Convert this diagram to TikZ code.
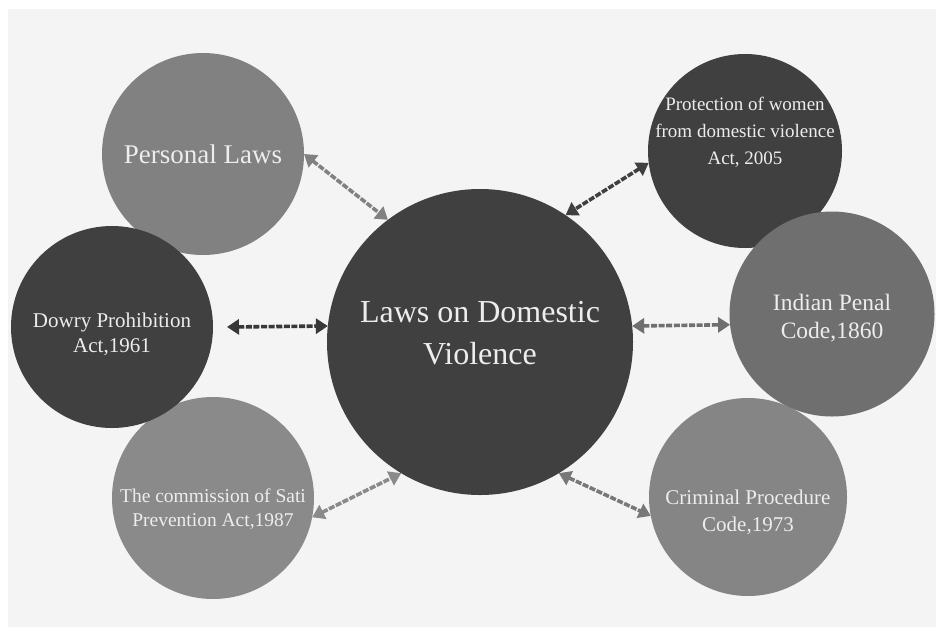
\documentclass[tikz,border=0pt]{standalone}
\usepackage{fontspec}
\setmainfont{Liberation Serif}
\usetikzlibrary{arrows.meta}
\definecolor{bggray}{HTML}{F4F4F4}
\definecolor{darkball}{HTML}{404040}
\definecolor{midball}{HTML}{818181}
\definecolor{penalball}{HTML}{6F6F6F}
\definecolor{satiball}{HTML}{8A8A8A}
\definecolor{crimball}{HTML}{858585}
\definecolor{balltext}{HTML}{EDEDED}
\tikzset{
  ball/.style={circle,inner sep=0pt,outer sep=0pt},
  balltxt/.style={text=balltext,align=center,inner sep=0pt},
  link/.style={line width=3.6pt,dash pattern=on 6pt off 1.6pt,
    {Triangle[width=15pt,length=12pt]}-{Triangle[width=15pt,length=12pt]}}
}
\begin{document}
\begin{tikzpicture}[x=1pt,y=-1pt]
            % Background
            \useasboundingbox (0,0) rectangle (936,627);
            \fill[white] (0,0) rectangle (936,627);
            \fill[bggray] (8,9) rectangle (936,627);
            % Outer circles
            \node[ball,fill=midball,minimum size=202pt,
                label={[balltxt,font=\fontsize{27}{32}\selectfont]center:Personal Laws}]
                (personal) at (203,154) {};
            \node[ball,fill=satiball,minimum size=202pt,
                label={[balltxt,font=\fontsize{19.5}{24}\selectfont,yshift=-11pt]center:{The commission of Sati\\Prevention Act,1987}}]
                (sati) at (213,498) {};
            \node[ball,fill=darkball,minimum size=202pt,
                label={[balltxt,font=\fontsize{21}{25}\selectfont,yshift=-7pt]center:{Dowry Prohibition\\Act,1961}}]
                (dowry) at (112,327) {};
            \node[ball,fill=darkball,minimum size=194pt,
                label={[balltxt,font=\fontsize{19}{27}\selectfont,yshift=19pt]center:{Protection of women\\from domestic violence\\Act, 2005}}]
                (pwdva) at (745,151) {};
            \node[ball,fill=crimball,minimum size=198pt,
                label={[balltxt,font=\fontsize{21}{27}\selectfont,yshift=-15pt]center:{Criminal Procedure\\Code,1973}}]
                (crpc) at (748,497) {};
            \node[ball,fill=penalball,minimum size=205pt,
                label={[balltxt,font=\fontsize{23.5}{28}\selectfont,yshift=-4pt]center:{Indian Penal\\Code,1860}}]
                (ipc) at (832,314) {};
            % Centre circle
            \node[ball,fill=darkball,minimum size=306pt,
                label={[balltxt,font=\fontsize{32}{42}\selectfont,yshift=9pt]center:{Laws on Domestic\\Violence}}]
                (laws) at (480,342) {};
            % Arrows
            \draw[link,midball] (personal.east) -- (laws.127);
            \draw[link,darkball] (pwdva.187) -- (laws.56);
            \draw[link,black!78] ([xshift=14pt]dowry.east) -- (laws.174);
            \draw[link,penalball] (laws.6) -- (ipc.186);
            \draw[link,satiball] (sati.-11) -- (laws.239);
            \draw[link,black!53] (laws.301) -- (crpc.191);
           \end{tikzpicture}
\end{document}
